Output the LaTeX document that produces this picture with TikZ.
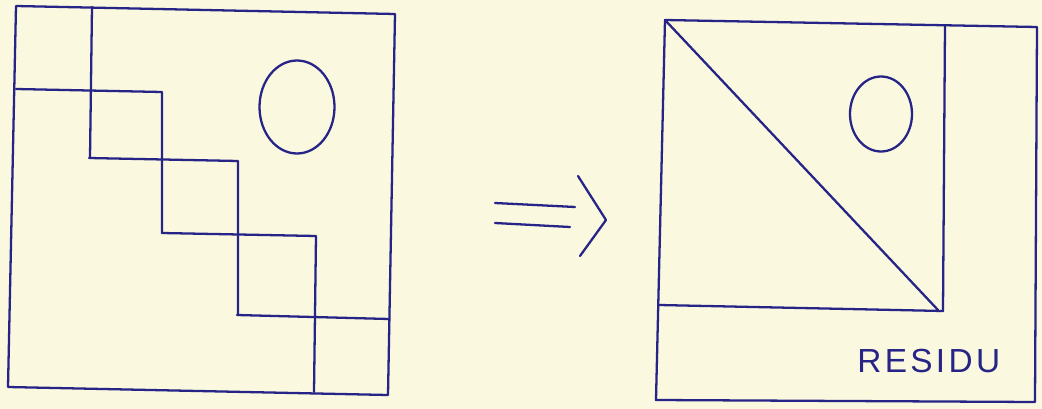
\documentclass[tikz,border=0pt]{standalone}
\usepackage{fontspec}
\newfontfamily\handfont[LetterSpace=10]{Liberation Sans}
\definecolor{paper}{RGB}{250,248,222}
\definecolor{ink}{RGB}{38,36,135}
\begin{document}
\begin{tikzpicture}[x=0.02cm,y=-0.02cm,
  pen/.style={draw=ink,line width=1.3pt,line cap=round,line join=round}]
\fill[paper] (0,0) rectangle (1042,409);
\useasboundingbox (0,0) rectangle (1042,409);
% left panel
\draw[pen] (16,6) -- (395,14) -- (388,395) -- (8,387) -- cycle;
\draw[pen] (92,7) -- (90,158);
\draw[pen] (16,89) -- (162,92) -- (162,233);
\draw[pen] (89,158) -- (238,161) -- (238,315);
\draw[pen] (162,233) -- (316,236) -- (314,392);
\draw[pen] (237,315) -- (389,319);
\draw[pen] (297,107) ellipse [x radius=37.5, y radius=46.5];
% arrow
\draw[pen] (495,203) -- (575,207);
\draw[pen] (495,223) -- (570,227);
\draw[pen] (578,176) -- (606,220) -- (580,256);
% right panel
\draw[pen] (665,20) -- (1037,27) -- (1035,402) -- (656,400) -- cycle;
\draw[pen] (945,25) -- (943,311);
\draw[pen] (659,305) -- (943,311);
\draw[pen] (665,20) -- (938,310);
\draw[pen] (881,114) ellipse [x radius=31, y radius=37.5];
\node[text=ink,font=\handfont\fontsize{19}{19}\selectfont,inner sep=0pt,anchor=west] (residu) at (857,361) {RESIDU};
\end{tikzpicture}
\end{document}
